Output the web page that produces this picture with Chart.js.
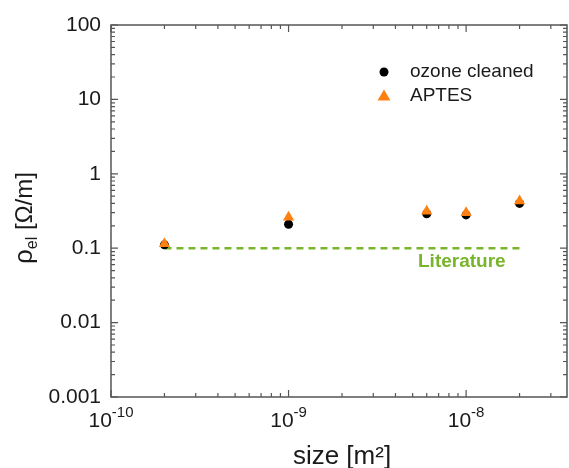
<!DOCTYPE html>
<html>
<head>
<meta charset="utf-8">
<script src="https://cdn.jsdelivr.net/npm/chart.js@4.4.1/dist/chart.umd.min.js"></script>
<style>
  html, body { margin: 0; padding: 0; background: #fff; }
  #wrap { width: 569px; height: 468px; }
</style>
</head>
<body>
<div id="wrap"><canvas id="chart" width="569" height="468"></canvas></div>
<script>
// sample sizes (m²) and measured resistance per length (Ω/m)
const sizes = [2e-10, 1e-9, 6e-9, 1e-8, 2e-8];
const ozoneCleaned = [0.111, 0.21, 0.29, 0.28, 0.40];
const aptes = [0.115, 0.26, 0.315, 0.30, 0.43];

// literature reference value
const literatureX = [2e-10, 2e-8];
const literatureY = [0.1, 0.1];

const xDecades = [-10, -9, -8];
const yTicks = [0.001, 0.01, 0.1, 1, 10, 100];
const yTickLabels = ['0.001', '0.01', '0.1', '1', '10', '100'];

const X_MIN = 1e-10, X_MAX = 3.7e-8;
const Y_MIN = 0.001, Y_MAX = 100;

const FONT = '"Liberation Sans", Arial, sans-serif';
const AXIS_COLOR = '#555';
const ORANGE = '#ff8010';
const GREEN = '#78b52c';

const toPoints = (xs, ys) => xs.map((x, i) => ({ x: x, y: ys[i] }));

// frame, inward ticks on all four sides, tick labels, titles and legend
const axesPlugin = {
  id: 'axesPlugin',
  afterDraw(chart) {
    const ctx = chart.ctx;
    const a = chart.chartArea;
    const xs = chart.scales.x, ys = chart.scales.y;
    ctx.save();
    ctx.strokeStyle = AXIS_COLOR;
    ctx.lineWidth = 1.5;
    ctx.strokeRect(a.left, a.top, a.right - a.left, a.bottom - a.top);

    ctx.lineWidth = 1.2;
    // x ticks (majors + minors)
    for (let d = -10; d <= -8; d++) {
      for (let m = 1; m <= 9; m++) {
        const v = m * Math.pow(10, d);
        if (v < X_MIN || v > X_MAX) continue;
        const px = xs.getPixelForValue(v);
        const len = m === 1 ? 7 : 4;
        ctx.beginPath();
        ctx.moveTo(px, a.bottom); ctx.lineTo(px, a.bottom - len);
        ctx.moveTo(px, a.top); ctx.lineTo(px, a.top + len);
        ctx.stroke();
      }
    }
    // y ticks
    for (let d = -3; d <= 2; d++) {
      for (let m = 1; m <= 9; m++) {
        const v = m * Math.pow(10, d);
        if (v < Y_MIN || v > Y_MAX) continue;
        const py = ys.getPixelForValue(v);
        const len = m === 1 ? 7 : 4;
        ctx.beginPath();
        ctx.moveTo(a.left, py); ctx.lineTo(a.left + len, py);
        ctx.moveTo(a.right, py); ctx.lineTo(a.right - len, py);
        ctx.stroke();
      }
    }

    ctx.fillStyle = '#1a1a1a';
    // y tick labels
    ctx.font = '21px ' + FONT;
    ctx.textAlign = 'right';
    ctx.textBaseline = 'middle';
    yTicks.forEach((v, i) => {
      ctx.fillText(yTickLabels[i], a.left - 10, ys.getPixelForValue(v));
    });

    // x tick labels as 10^n
    xDecades.forEach(d => {
      const px = xs.getPixelForValue(Math.pow(10, d));
      ctx.font = '21px ' + FONT;
      const baseW = ctx.measureText('10').width;
      ctx.font = '15px ' + FONT;
      const sup = String(d);
      const supW = ctx.measureText(sup).width;
      const left = px - (baseW + supW) / 2;
      ctx.textAlign = 'left';
      ctx.textBaseline = 'alphabetic';
      ctx.font = '21px ' + FONT;
      ctx.fillText('10', left, a.bottom + 30);
      ctx.font = '15px ' + FONT;
      ctx.fillText(sup, left + baseW, a.bottom + 20);
    });

    // axis titles
    ctx.font = '26px ' + FONT;
    ctx.textAlign = 'center';
    ctx.textBaseline = 'middle';
    ctx.fillText('size [m²]', 342, 457);

    ctx.save();
    ctx.translate(24, 218);
    ctx.rotate(-Math.PI / 2);
    const p1 = 'ρ', p2 = 'el', p3 = ' [Ω/m]';
    ctx.font = '26px ' + FONT;
    const w1 = ctx.measureText(p1).width;
    ctx.font = '24px ' + FONT;
    const w3 = ctx.measureText(p3).width;
    ctx.font = '16px ' + FONT;
    const w2 = ctx.measureText(p2).width;
    let tx = -(w1 + w2 + w3) / 2;
    ctx.textAlign = 'left';
    ctx.textBaseline = 'alphabetic';
    ctx.font = '26px ' + FONT;
    ctx.fillText(p1, tx, 8); tx += w1;
    ctx.font = '16px ' + FONT;
    ctx.fillText(p2, tx, 13); tx += w2;
    ctx.font = '24px ' + FONT;
    ctx.fillText(p3, tx, 8);
    ctx.restore();

    // literature label
    ctx.fillStyle = GREEN;
    ctx.font = 'bold 19px ' + FONT;
    ctx.textAlign = 'left';
    ctx.textBaseline = 'middle';
    ctx.fillText('Literature', 418, 262);

    // legend
    ctx.fillStyle = '#000';
    ctx.beginPath();
    ctx.arc(384, 72, 4.5, 0, Math.PI * 2);
    ctx.fill();
    ctx.fillStyle = ORANGE;
    ctx.beginPath();
    ctx.moveTo(384, 89.5); ctx.lineTo(390.5, 100.5); ctx.lineTo(377.5, 100.5);
    ctx.closePath();
    ctx.fill();
    ctx.fillStyle = '#1a1a1a';
    ctx.font = '19px ' + FONT;
    ctx.fillText('ozone cleaned', 410, 72);
    ctx.fillText('APTES', 410, 96);
    ctx.restore();
  }
};

new Chart(document.getElementById('chart'), {
  type: 'scatter',
  data: {
    datasets: [
      {
        label: 'APTES',
        data: toPoints(sizes, aptes),
        pointStyle: 'triangle',
        pointRadius: 6.5,
        backgroundColor: ORANGE,
        borderColor: ORANGE,
        borderWidth: 0,
        order: 0
      },
      {
        label: 'ozone cleaned',
        data: toPoints(sizes, ozoneCleaned),
        pointStyle: 'circle',
        pointRadius: 4.5,
        backgroundColor: '#000',
        borderColor: '#000',
        borderWidth: 0,
        order: 1
      },
      {
        label: 'Literature',
        data: toPoints(literatureX, literatureY),
        showLine: true,
        borderColor: GREEN,
        borderWidth: 2.5,
        borderDash: [7, 5],
        pointRadius: 0,
        order: 2
      }
    ]
  },
  options: {
    responsive: false,
    animation: false,
    layout: { autoPadding: false, padding: { left: 111, top: 25, right: 2, bottom: 71 } },
    plugins: { legend: { display: false }, tooltip: { enabled: false } },
    scales: {
      x: { type: 'logarithmic', min: X_MIN, max: X_MAX, display: false },
      y: { type: 'logarithmic', min: Y_MIN, max: Y_MAX, display: false }
    }
  },
  plugins: [axesPlugin]
});
</script>
</body>
</html>
